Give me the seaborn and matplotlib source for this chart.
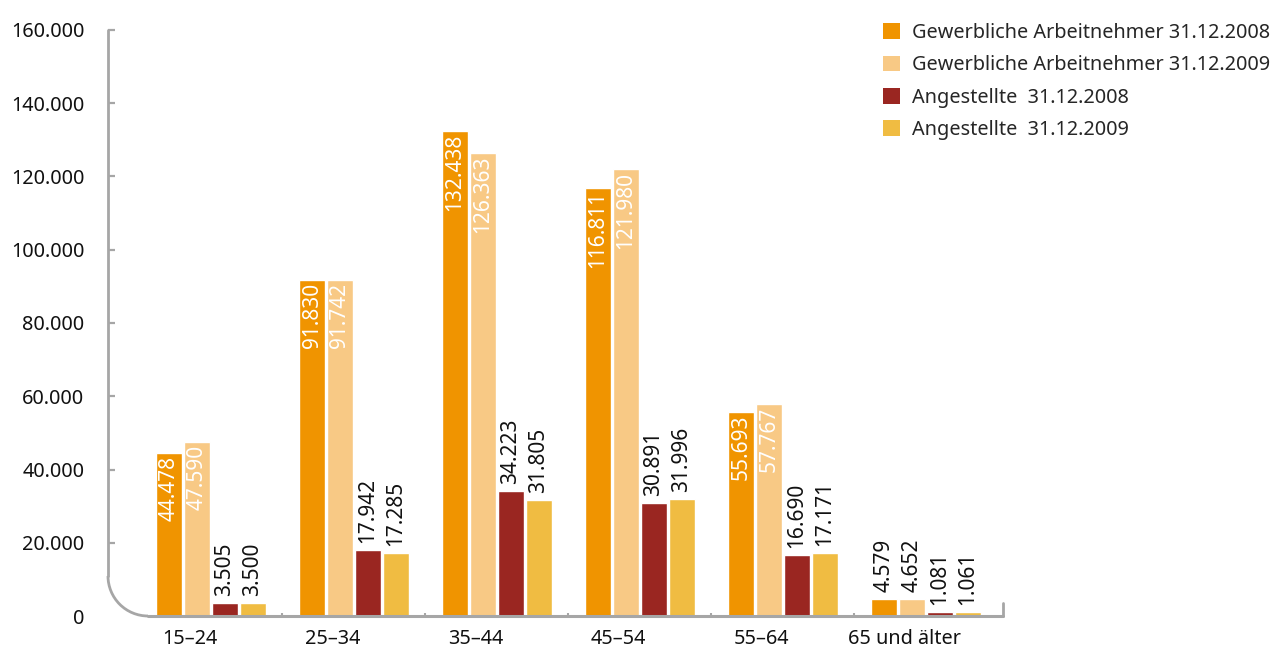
import numpy as np
import pandas as pd
import matplotlib
matplotlib.use("Agg")
import matplotlib.pyplot as plt
from matplotlib.patches import Arc, Rectangle
from matplotlib.lines import Line2D
import seaborn as sns

groups = ["15–24", "25–34", "35–44", "45–54", "55–64", "65 und älter"]
series = ["Gewerbliche Arbeitnehmer 31.12.2008", "Gewerbliche Arbeitnehmer 31.12.2009",
          "Angestellte  31.12.2008", "Angestellte  31.12.2009"]
gew_2008 = [44478, 91830, 132438, 116811, 55693, 4579]
gew_2009 = [47590, 91742, 126363, 121980, 57767, 4652]
ang_2008 = [3505, 17942, 34223, 30891, 16690, 1081]
ang_2009 = [3500, 17285, 31805, 31996, 17171, 1061]
colors = ["#F09400", "#F8C985", "#9A2621", "#F0BC42"]
yticks = [0, 20000, 40000, 60000, 80000, 100000, 120000, 140000, 160000]

all_vals = [gew_2008, gew_2009, ang_2008, ang_2009]
rows = []
for s, vals in zip(series, all_vals):
    for g, v in zip(groups, vals):
        rows.append({"group": g, "series": s, "value": v})
df = pd.DataFrame(rows)

sns.set_style("white")
plt.rcParams["font.family"] = ["Noto Sans", "DejaVu Sans"]
FS = 14.3

fig = plt.figure(figsize=(12.73, 6.5), dpi=100)
ax = fig.add_axes([108 / 1273, 34 / 650, (1003 - 108) / 1273, (616 - 30) / 650])

sns.barplot(data=df, x="group", y="value", hue="series", order=groups, hue_order=series,
            palette=colors, saturation=1, width=0.78, gap=0.07, legend=False, ax=ax,
            errorbar=None)

ax.set_xlim(-0.72, 5.54)
ax.set_ylim(0, 160000)
ax.set_xlabel("")
ax.set_ylabel("")

def fmt(v):
    return f"{v:,.0f}".replace(",", ".")

# labels
for si, (cont, vals) in enumerate(zip(ax.containers, all_vals)):
    for bar, v in zip(cont, vals):
        cx = bar.get_x() + bar.get_width() / 2
        top = bar.get_height()
        if si < 2 and v > 20000:
            ax.annotate(fmt(v), (cx, top), xytext=(0, -2), textcoords="offset points",
                        rotation=90, ha="center", va="top", color="white", fontsize=FS + 0.7)
        else:
            ax.annotate(fmt(v), (cx, top), xytext=(0, 5), textcoords="offset points",
                        rotation=90, ha="center", va="bottom", color="#111111", fontsize=FS + 0.7)

# spines replaced with rounded corner axis
for sp in ax.spines.values():
    sp.set_visible(False)
gray = "#a6a6a6"
rx = 40 / 895
ry = 40 / 586
tr = ax.transAxes
ax.add_line(Line2D([0, 0], [1, ry], transform=tr, color=gray, lw=2, clip_on=False))
ax.add_line(Line2D([rx, 1], [0, 0], transform=tr, color=gray, lw=2.2, clip_on=False))
ax.add_patch(Arc((rx, ry), 2 * rx, 2 * ry, theta1=180, theta2=270, transform=tr,
                 color=gray, lw=2, clip_on=False))
ax.add_line(Line2D([1, 1], [0, 13 / 586], transform=tr, color=gray, lw=2, clip_on=False))

ax.set_yticks(yticks)
ax.set_yticklabels([fmt(v) for v in yticks])
ax.tick_params(axis="y", direction="in", length=5, width=1.6, color=gray, pad=17,
               labelsize=FS, labelcolor="#111111", left=True)
ax.yaxis.get_major_ticks()[0].tick1line.set_visible(False)
ax.set_xticks([i - 0.15 for i in range(len(groups))])
ax.set_xticklabels(groups)
ax.tick_params(axis="x", length=0, pad=9, labelsize=FS, labelcolor="#111111")
ax.set_xticks([i + 0.5 for i in range(len(groups) - 1)], minor=True)
ax.tick_params(axis="x", which="minor", direction="in", length=2.5, width=1.5, color=gray,
               bottom=True)

handles = [Rectangle((0, 0), 1, 1, facecolor=c, edgecolor="none") for c in colors]
fig.legend(handles, series, loc="upper left", bbox_to_anchor=(883 / 1273, 1 - 23 / 650),
           frameon=False, fontsize=FS, handlelength=0.85, handleheight=0.85,
           handletextpad=0.6, labelspacing=0.62, borderaxespad=0, borderpad=0)

fig.savefig("out.png", dpi=100)
